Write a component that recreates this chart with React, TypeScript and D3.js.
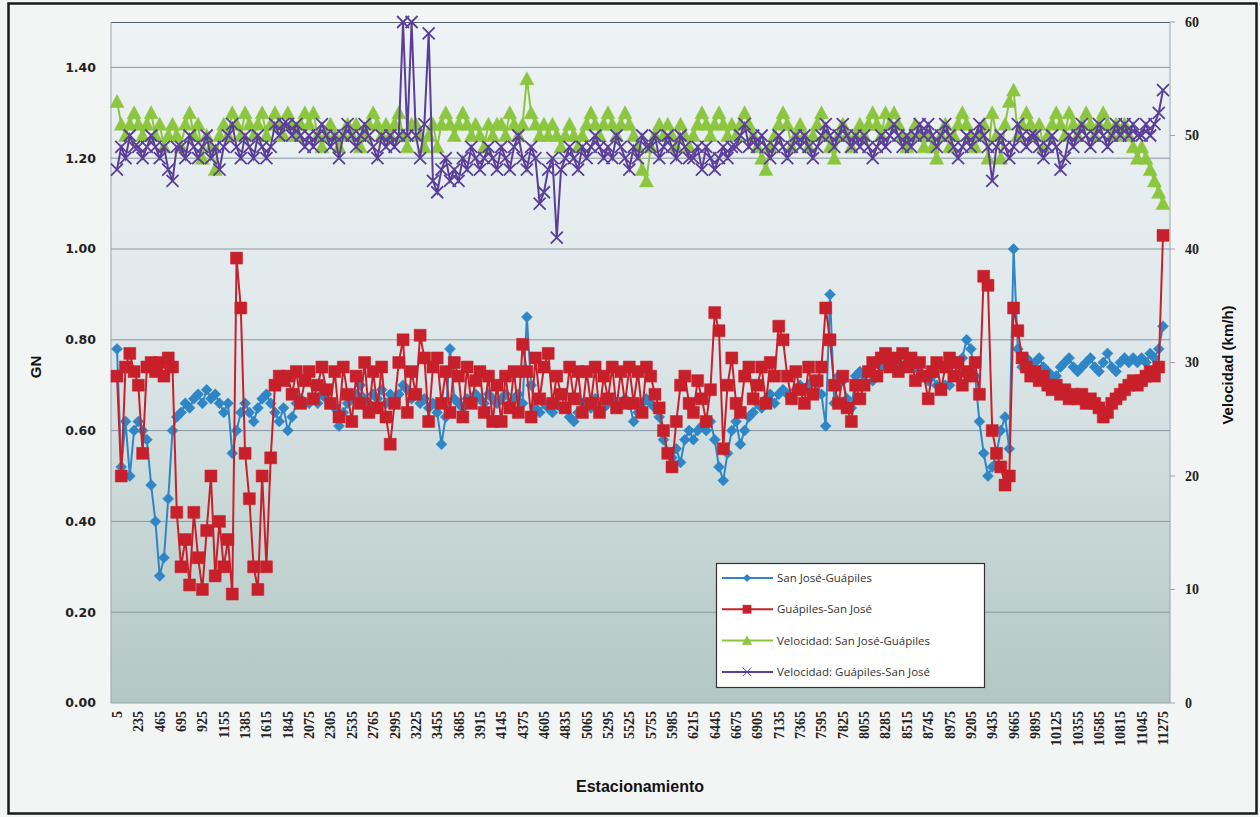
import React from 'react';
import * as d3 from 'd3';

// stationing (m), one value every 46 m, labelled every 230 m
const stations = d3.range(5, 11276, 46);

// GN San José-Guápiles
const sjGN = [
  0.78, 0.52, 0.62, 0.50, 0.60, 0.62, 0.60, 0.58, 0.48, 0.40,
  0.28, 0.32, 0.45, 0.60, 0.63, 0.64, 0.66, 0.65, 0.67, 0.68,
  0.66, 0.69, 0.67, 0.68, 0.66, 0.64, 0.66, 0.55, 0.60, 0.64,
  0.66, 0.64, 0.62, 0.65, 0.67, 0.68, 0.66, 0.64, 0.62, 0.65,
  0.60, 0.63, 0.66, 0.67, 0.66, 0.66, 0.67, 0.66, 0.68, 0.67,
  0.66, 0.65, 0.61, 0.64, 0.66, 0.67, 0.68, 0.70, 0.67, 0.66,
  0.68, 0.67, 0.69, 0.66, 0.68, 0.67, 0.68, 0.70, 0.69, 0.67,
  0.68, 0.66, 0.67, 0.65, 0.66, 0.64, 0.57, 0.63, 0.78, 0.67,
  0.66, 0.65, 0.67, 0.66, 0.68, 0.67, 0.66, 0.68, 0.67, 0.66,
  0.67, 0.68, 0.66, 0.67, 0.68, 0.66, 0.85, 0.70, 0.65, 0.64,
  0.66, 0.65, 0.64, 0.66, 0.65, 0.65, 0.63, 0.62, 0.64, 0.66,
  0.66, 0.65, 0.67, 0.66, 0.65, 0.66, 0.67, 0.65, 0.66, 0.67,
  0.66, 0.62, 0.64, 0.66, 0.67, 0.66, 0.65, 0.63, 0.58, 0.55,
  0.54, 0.56, 0.53, 0.58, 0.60, 0.58, 0.60, 0.61, 0.60, 0.62,
  0.58, 0.52, 0.49, 0.55, 0.60, 0.62, 0.57, 0.60, 0.63, 0.64,
  0.66, 0.65, 0.67, 0.68, 0.66, 0.68, 0.69, 0.68, 0.67, 0.69,
  0.70, 0.69, 0.70, 0.71, 0.70, 0.68, 0.61, 0.90, 0.66, 0.72,
  0.71, 0.67, 0.65, 0.72, 0.73, 0.72, 0.73, 0.71, 0.72, 0.74,
  0.74, 0.75, 0.76, 0.75, 0.74, 0.75, 0.76, 0.74, 0.73, 0.72,
  0.71, 0.72, 0.70, 0.69, 0.70, 0.70, 0.72, 0.74, 0.76, 0.80,
  0.78, 0.72, 0.62, 0.55, 0.50, 0.52, 0.55, 0.60, 0.63, 0.56,
  1.00, 0.78, 0.74, 0.76, 0.75, 0.75, 0.76, 0.74, 0.73, 0.72,
  0.72, 0.74, 0.75, 0.76, 0.74, 0.73, 0.74, 0.75, 0.76, 0.74,
  0.73, 0.75, 0.77, 0.74, 0.73, 0.75, 0.76, 0.75, 0.76, 0.75,
  0.76, 0.75, 0.77, 0.76, 0.78, 0.83,
];

// GN Guápiles-San José
const gsGN = [
  0.72, 0.50, 0.74, 0.77, 0.73, 0.70, 0.55, 0.74, 0.75, 0.73,
  0.75, 0.72, 0.76, 0.74, 0.42, 0.30, 0.36, 0.26, 0.42, 0.32,
  0.25, 0.38, 0.50, 0.28, 0.40, 0.30, 0.36, 0.24, 0.98, 0.87,
  0.55, 0.45, 0.30, 0.25, 0.50, 0.30, 0.54, 0.70, 0.72, 0.71,
  0.72, 0.68, 0.73, 0.66, 0.71, 0.73, 0.67, 0.70, 0.74, 0.69,
  0.66, 0.73, 0.63, 0.74, 0.68, 0.62, 0.72, 0.66, 0.75, 0.64,
  0.73, 0.65, 0.74, 0.63, 0.57, 0.66, 0.75, 0.80, 0.64, 0.73,
  0.68, 0.81, 0.76, 0.62, 0.74, 0.76, 0.66, 0.73, 0.64, 0.75,
  0.72, 0.63, 0.74, 0.66, 0.71, 0.73, 0.64, 0.72, 0.62, 0.70,
  0.62, 0.72, 0.65, 0.73, 0.64, 0.79, 0.73, 0.63, 0.76, 0.67,
  0.74, 0.77, 0.66, 0.72, 0.68, 0.65, 0.74, 0.67, 0.73, 0.64,
  0.73, 0.66, 0.74, 0.64, 0.72, 0.67, 0.74, 0.65, 0.73, 0.66,
  0.74, 0.66, 0.73, 0.64, 0.74, 0.72, 0.68, 0.65, 0.60, 0.55,
  0.52, 0.62, 0.70, 0.72, 0.66, 0.64, 0.71, 0.67, 0.62, 0.69,
  0.86, 0.82, 0.56, 0.70, 0.76, 0.66, 0.64, 0.72, 0.74, 0.67,
  0.70, 0.74, 0.66, 0.75, 0.72, 0.83, 0.80, 0.72, 0.67, 0.73,
  0.69, 0.66, 0.74, 0.68, 0.71, 0.74, 0.87, 0.80, 0.70, 0.66,
  0.72, 0.65, 0.62, 0.70, 0.67, 0.70, 0.73, 0.75, 0.72, 0.76,
  0.77, 0.74, 0.76, 0.73, 0.77, 0.74, 0.76, 0.71, 0.75, 0.72,
  0.67, 0.73, 0.75, 0.69, 0.74, 0.76, 0.72, 0.75, 0.70, 0.73,
  0.72, 0.75, 0.68, 0.94, 0.92, 0.60, 0.55, 0.52, 0.48, 0.50,
  0.87, 0.82, 0.76, 0.74, 0.72, 0.73, 0.71, 0.72, 0.70, 0.69,
  0.70, 0.68, 0.69, 0.67, 0.68, 0.67, 0.68, 0.66, 0.67, 0.66,
  0.65, 0.63, 0.64, 0.66, 0.67, 0.68, 0.69, 0.70, 0.71, 0.70,
  0.71, 0.72, 0.73, 0.72, 0.74, 1.03,
];

// Velocidad San José-Guápiles (km/h)
const sjVel = [
  53, 51, 50, 51, 52, 51, 50, 51, 52, 50,
  51, 49, 50, 51, 50, 49, 51, 52, 50, 51,
  48, 50, 49, 47, 50, 51, 50, 52, 51, 50,
  52, 51, 50, 51, 52, 50, 51, 52, 51, 50,
  52, 51, 50, 51, 52, 51, 52, 50, 49, 50,
  51, 50, 49, 50, 51, 50, 51, 49, 50, 51,
  52, 51, 50, 51, 50, 51, 52, 50, 49, 51,
  51, 50, 49, 50, 51, 49, 51, 52, 51, 50,
  51, 52, 51, 50, 51, 50, 49, 51, 50, 51,
  51, 50, 52, 51, 50, 51, 55, 52, 51, 50,
  51, 50, 51, 50, 49, 50, 51, 50, 49, 50,
  51, 52, 51, 50, 51, 52, 51, 50, 51, 52,
  51, 50, 49, 47, 46, 49, 50, 51, 50, 51,
  50, 49, 51, 50, 49, 50, 51, 52, 51, 50,
  51, 52, 51, 50, 51, 50, 51, 52, 51, 50,
  49, 48, 47, 49, 50, 51, 52, 51, 49, 50,
  51, 50, 49, 50, 51, 52, 50, 49, 48, 50,
  51, 50, 49, 50, 51, 50, 51, 52, 51, 50,
  52, 51, 52, 51, 50, 49, 50, 51, 50, 49,
  50, 49, 48, 50, 51, 49, 50, 51, 52, 51,
  50, 49, 50, 51, 48, 52, 50, 48, 51, 53,
  54, 50, 51, 52, 51, 50, 51, 49, 50, 51,
  52, 51, 50, 52, 51, 50, 51, 52, 51, 50,
  51, 52, 51, 50, 51, 50, 51, 50, 49, 48,
  49, 48, 47, 46, 45, 44,
];

// Velocidad Guápiles-San José (km/h)
const gsVel = [
  47, 49, 48, 50, 49, 49, 48, 49, 50, 49,
  48, 49, 47, 46, 49, 49, 48, 50, 49, 48,
  49, 50, 48, 49, 47, 49, 50, 51, 49, 48,
  50, 49, 48, 50, 49, 48, 49, 51, 50, 51,
  51, 50, 51, 50, 49, 50, 49, 50, 51, 50,
  49, 50, 48, 50, 51, 50, 49, 50, 51, 50,
  49, 48, 50, 49, 50, 49, 50, 60, 50, 60,
  50, 48, 51, 59, 46, 45, 47, 48, 46, 47,
  46, 48, 47, 49, 48, 47, 48, 49, 48, 47,
  49, 48, 47, 49, 50, 48, 47, 49, 48, 44,
  45, 47, 48, 41, 47, 48, 49, 48, 47, 49,
  48, 49, 50, 49, 48, 49, 48, 50, 49, 48,
  47, 49, 48, 50, 49, 49, 50, 48, 49, 50,
  49, 48, 50, 49, 48, 48, 49, 47, 49, 48,
  47, 48, 49, 48, 49, 49, 50, 51, 49, 50,
  49, 50, 49, 48, 49, 50, 49, 48, 49, 50,
  49, 50, 49, 48, 49, 50, 51, 50, 49, 50,
  51, 50, 49, 50, 49, 50, 49, 48, 49, 50,
  49, 50, 51, 50, 49, 50, 49, 50, 51, 50,
  51, 50, 49, 50, 51, 50, 49, 48, 49, 50,
  49, 50, 51, 50, 49, 46, 49, 50, 49, 48,
  49, 51, 50, 49, 50, 50, 49, 48, 49, 50,
  49, 47, 48, 50, 49, 50, 51, 50, 49, 50,
  51, 50, 49, 50, 51, 50, 51, 50, 51, 50,
  50, 51, 50, 51, 52, 54,
];

const gnTicks = [0, 0.2, 0.4, 0.6, 0.8, 1.0, 1.2, 1.4];
const velTicks = [0, 10, 20, 30, 40, 50, 60];
const tickLabels = stations.filter((_, i) => i % 5 === 0);

const W = 1260;
const H = 817;
const plot = { left: 111, right: 1170, top: 22, bottom: 703 };

const diamond = 'M0,-5.5L5.5,0L0,5.5L-5.5,0Z';
const square = 'M-6,-6H6V6H-6Z';
const triangle = 'M0,-7L7,6H-7Z';
const cross = 'M-6,-6L6,6M-6,6L6,-6';

const series = [
  { name: 'San José-Guápiles', values: sjGN, axis: 'gn', color: '#2f86c6', marker: diamond, stroked: false },
  { name: 'Guápiles-San José', values: gsGN, axis: 'gn', color: '#c8202a', marker: square, stroked: false },
  { name: 'Velocidad: San José-Guápiles', values: sjVel, axis: 'vel', color: '#8cc63f', marker: triangle, stroked: false },
  { name: 'Velocidad: Guápiles-San José', values: gsVel, axis: 'vel', color: '#5a3e98', marker: cross, stroked: true },
];

export default function App() {
  const x = d3.scalePoint<number>().domain(stations).range([117, 1163]);
  const yGN = d3.scaleLinear().domain([0, 1.5]).range([plot.bottom, plot.top]);
  const yVel = d3.scaleLinear().domain([0, 60]).range([plot.bottom, plot.top]);

  return (
    <div style={{ position: 'absolute', left: 0, top: 0 }}>
      <svg width={W} height={H} style={{ display: 'block' }}>
        <defs>
          <linearGradient id="bg" x1="0" y1="0" x2="0" y2="1">
            <stop offset="0" stopColor="#eef3f5" />
            <stop offset="0.45" stopColor="#dfe8eb" />
            <stop offset="1" stopColor="#b2c7c2" />
          </linearGradient>
          <clipPath id="clip">
            <rect x={plot.left - 8} y={plot.top - 8} width={plot.right - plot.left + 16} height={plot.bottom - plot.top + 16} />
          </clipPath>
        </defs>
        <rect x={0} y={0} width={W} height={H} fill="#f3f4f4" />
        <rect x={8.5} y={3.5} width={1248} height={810} fill="none" stroke="#1a1a1a" strokeWidth={2.5} />

        <rect x={plot.left} y={plot.top} width={plot.right - plot.left} height={plot.bottom - plot.top} fill="url(#bg)" />
        {gnTicks.slice(1).map(t => (
          <line key={t} x1={plot.left} x2={plot.right} y1={yGN(t)} y2={yGN(t)} stroke="#8a96a2" strokeWidth={1} />
        ))}
        <line x1={plot.left} x2={plot.right} y1={plot.top + 0.5} y2={plot.top + 0.5} stroke="#55606a" strokeWidth={1.2} />
        <line x1={plot.left} x2={plot.left} y1={plot.top} y2={plot.bottom} stroke="#9aa4ac" strokeWidth={1} />
        <line x1={plot.right} x2={plot.right} y1={plot.top} y2={plot.bottom} stroke="#9aa4ac" strokeWidth={1} />
        <line x1={plot.left} x2={plot.right} y1={plot.bottom} y2={plot.bottom} stroke="#9aa4ac" strokeWidth={1} />

        <g clipPath="url(#clip)">
          {series.map(s => {
            const y = s.axis === 'gn' ? yGN : yVel;
            const line = d3.line<number>()
              .x((_, i) => x(stations[i]) as number)
              .y(d => y(d));
            return (
              <g key={s.name}>
                <path d={line(s.values) || ''} fill="none" stroke={s.color} strokeWidth={2} />
                {s.values.map((v, i) => (
                  <path
                    key={i}
                    transform={`translate(${x(stations[i])},${y(v)})`}
                    d={s.marker}
                    fill={s.stroked ? 'none' : s.color}
                    stroke={s.color}
                    strokeWidth={s.stroked ? 1.8 : 0.5}
                  />
                ))}
              </g>
            );
          })}
        </g>

        {gnTicks.map(t => (
          <text key={t} x={96} y={yGN(t)} dy="0.35em" textAnchor="end"
            fontFamily="DejaVu Sans, sans-serif" fontWeight="bold" fontSize={12.5} fill="#222">
            {t.toFixed(2)}
          </text>
        ))}
        {velTicks.map(t => (
          <g key={t}>
            <line x1={plot.right} x2={plot.right + 5} y1={yVel(t)} y2={yVel(t)} stroke="#9aa4ac" />
            <text x={1185} y={yVel(t)} dy="0.35em" textAnchor="start"
              fontFamily="Liberation Serif, serif" fontWeight="bold" fontSize={14} fill="#222">
              {t}
            </text>
          </g>
        ))}
        {tickLabels.map(t => (
          <text key={t} transform={`translate(${(x(t) as number) + 5},${711}) rotate(-90)`} textAnchor="end"
            fontFamily="Liberation Serif, serif" fontWeight="bold" fontSize={14} fill="#222">
            {t}
          </text>
        ))}

        <text x={640} y={792} textAnchor="middle" fontFamily="Liberation Sans, Arial, sans-serif"
          fontWeight="bold" fontSize={16} fill="#111">Estacionamiento</text>
        <text transform="translate(41,367) rotate(-90)" textAnchor="middle" fontFamily="Liberation Sans, Arial, sans-serif"
          fontWeight="bold" fontSize={15} fill="#111">GN</text>
        <text transform="translate(1233,365) rotate(-90)" textAnchor="middle" fontFamily="Liberation Sans, Arial, sans-serif"
          fontWeight="bold" fontSize={15} fill="#111">Velocidad (km/h)</text>

        <g transform="translate(716,563)">
          <rect x={0.5} y={0.5} width={268} height={124} fill="#ffffff" stroke="#333" strokeWidth={1.2} />
          {series.map((s, i) => {
            const cy = 15 + i * 31.3;
            return (
              <g key={s.name} transform={`translate(0,${cy})`}>
                <line x1={6} x2={57} y1={0} y2={0} stroke={s.color} strokeWidth={2} />
                <path transform="translate(31,0) scale(0.7)" d={s.marker}
                  fill={s.stroked ? 'none' : s.color} stroke={s.color} strokeWidth={s.stroked ? 1.4 : 0.5} />
                <text x={61} y={0} dy="0.35em" fontFamily="Open Sans, sans-serif" fontSize={11.5} fill="#333">
                  {s.name}
                </text>
              </g>
            );
          })}
        </g>
      </svg>
    </div>
  );
}
